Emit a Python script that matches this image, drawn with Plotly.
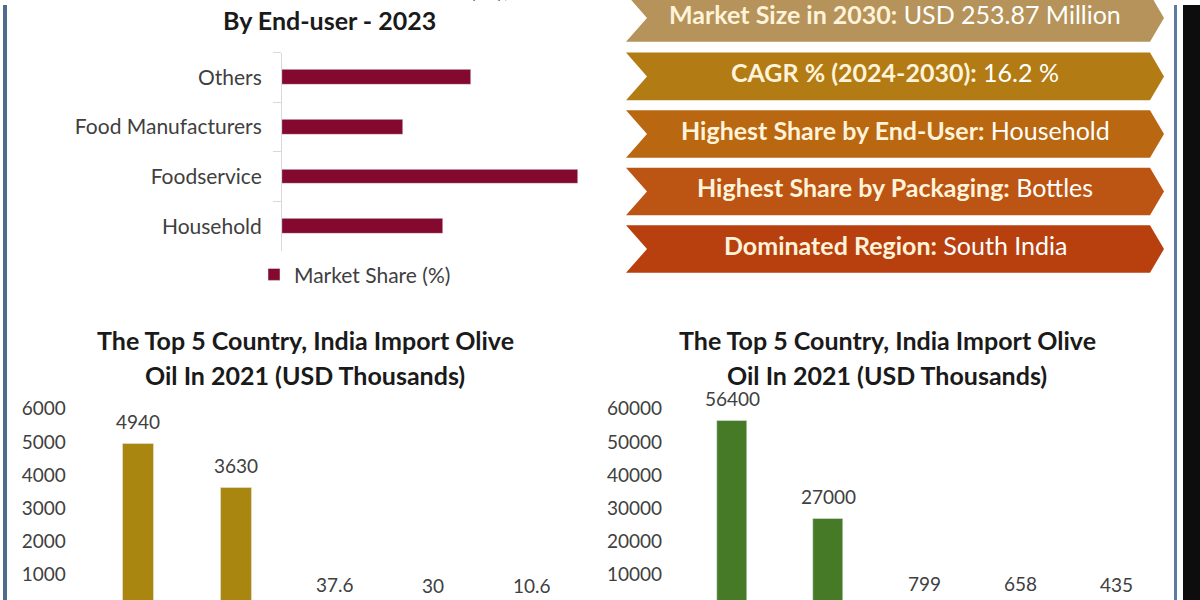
import plotly.graph_objects as go

# ---------------- data ----------------
enduser_categories = ["Household", "Foodservice", "Food Manufacturers", "Others"]
enduser_share = [21.0, 38.6, 15.8, 24.6]
enduser_series_name = "Market Share (%)"
enduser_title_lines = ["India Olive Oil Market Share (%),", "By End-user - 2023"]

import_title_lines = ["The Top 5 Country, India Import Olive", "Oil In 2021 (USD Thousands)"]

countries_left = ["Spain", "Italy", "Greece", "Turkey", "Tunisia"]
imports_left = [4940, 3630, 37.6, 30, 10.6]
ticks_left = [1000, 2000, 3000, 4000, 5000, 6000]

countries_right = ["Spain", "Italy", "Greece", "Turkey", "Tunisia"]
imports_right = [56400, 27000, 799, 658, 435]
ticks_right = [10000, 20000, 30000, 40000, 50000, 60000]

highlight_keys = [
    "Market Size in 2030:",
    "CAGR % (2024-2030):",
    "Highest Share by End-User:",
    "Highest Share by Packaging:",
    "Dominated Region:",
]
highlight_values = [
    "USD 253.87 Million",
    "16.2 %",
    "Household",
    "Bottles",
    "South India",
]
banner_colors = ["#B5935A", "#B27B14", "#B96710", "#BC5413", "#B8400F"]

# ---------------- helpers ----------------
W, H = 1200, 608          # bottom 8 px fall below the 600 px window (axis baselines)
FONT = "Lato"
TXT = "#404040"


def px(x):
    return x / W


def py(y):
    return 1 - y / H


fig = go.Figure()

fig.add_trace(go.Bar(
    y=enduser_categories, x=enduser_share, orientation="h",
    name=enduser_series_name, width=0.3,
    marker=dict(color="#84092F"),
    xaxis="x", yaxis="y", showlegend=True,
))
fig.add_trace(go.Bar(
    x=countries_left, y=imports_left, width=0.315,
    marker=dict(color="#A8860F"),
    xaxis="x2", yaxis="y2", showlegend=False,
))
fig.add_trace(go.Bar(
    x=countries_right, y=imports_right, width=0.31,
    marker=dict(color="#467A27"),
    xaxis="x3", yaxis="y3", showlegend=False,
))

annotations = []
# data labels
for c, v in zip(countries_left, imports_left):
    annotations.append(dict(x=c, y=v, xref="x2", yref="y2", text=f"{v:g}",
                            showarrow=False, yshift=22,
                            font=dict(family=FONT, size=19, color=TXT)))
for c, v in zip(countries_right, imports_right):
    annotations.append(dict(x=c, y=v, xref="x3", yref="y3", text=f"{v:g}",
                            showarrow=False, yshift=22,
                            font=dict(family=FONT, size=19, color=TXT)))

# titles (first line of the top-left title sits mostly above the visible area)
title_font = dict(family=FONT, size=25, color="#1A1A1A", weight="bold")
for line, yy in zip(enduser_title_lines, [-18, 15]):
    annotations.append(dict(x=px(329), y=py(yy), xref="paper", yref="paper",
                            text=line, showarrow=False, font=title_font,
                            xanchor="center", yanchor="middle"))
for cx in [305, 887]:
    for line, yy in zip(import_title_lines, [338, 373]):
        annotations.append(dict(x=px(cx), y=py(yy), xref="paper", yref="paper",
                                text=line, showarrow=False, font=title_font,
                                xanchor="center", yanchor="middle"))

# banners
shapes = []
left, notch, rcorner, tip = 626, 647, 1150, 1164
banner_tops = [-11, 48, 106, 164, 222]
bh = 48
for top, col, k, v in zip(banner_tops, banner_colors, highlight_keys, highlight_values):
    bot = top + bh
    mid = top + bh / 2
    path = (f"M {px(left)} {py(top)} L {px(rcorner)} {py(top)} L {px(tip)} {py(mid)} "
            f"L {px(rcorner)} {py(bot)} L {px(left)} {py(bot)} L {px(notch)} {py(mid)} Z")
    shapes.append(dict(type="path", path=path, xref="paper", yref="paper",
                       fillcolor=col, line=dict(width=0), layer="below"))
    annotations.append(dict(
        x=px(895), y=py(mid - 4), xref="paper", yref="paper", showarrow=False,
        xanchor="center", yanchor="middle",
        text=f"<b><span style='color:#FFF3DA'>{k}</span></b> {v}",
        font=dict(family=FONT, size=25, color="#FFFFFF"),
    ))

# borders
shapes.append(dict(type="line", xref="paper", yref="paper", x0=px(5), x1=px(5),
                   y0=0, y1=1, line=dict(color="#506C8C", width=4)))
shapes.append(dict(type="line", xref="paper", yref="paper", x0=px(1175.5), x1=px(1175.5),
                   y0=0, y1=1, line=dict(color="#5A7CA0", width=3)))
shapes.append(dict(type="rect", xref="paper", yref="paper", x0=px(1183), x1=1,
                   y0=0, y1=1, fillcolor="#0D0D0D", line=dict(width=0)))

tickfont = dict(family=FONT, size=19, color=TXT)

fig.update_layout(
    width=W, height=H,
    margin=dict(l=0, r=0, t=0, b=0),
    paper_bgcolor="white", plot_bgcolor="rgba(0,0,0,0)",
    font=dict(family=FONT, color=TXT),
    bargap=0,
    xaxis=dict(domain=[px(282), px(600)], range=[0, 41.5], visible=False, anchor="y"),
    yaxis=dict(domain=[py(248), py(48)], anchor="x", range=[-0.5, 3.5],
               showline=True, linecolor="#D9D9D9", linewidth=1,
               ticks="outside", tickson="boundaries", ticklen=8, tickcolor="#D9D9D9",
               tickfont=dict(family=FONT, size=21, color=TXT),
               showgrid=False, ticklabelstandoff=15),
    xaxis2=dict(domain=[px(88.75), px(581)], range=[-0.5, 4.5], visible=False, anchor="y2"),
    yaxis2=dict(domain=[0, py(400)], anchor="x2", range=[0, 6000 * 208 / 201],
                tickvals=ticks_left, tickformat="d", tickfont=tickfont, showgrid=False,
                showline=False, zeroline=False, ticklabelstandoff=22),
    xaxis3=dict(domain=[px(684), px(1165)], range=[-0.5, 4.5], visible=False, anchor="y3"),
    yaxis3=dict(domain=[0, py(400)], anchor="x3", range=[0, 60000 * 208 / 201],
                tickvals=ticks_right, tickformat="d", tickfont=tickfont, showgrid=False,
                showline=False, zeroline=False, ticklabelstandoff=21),
    legend=dict(orientation="h", x=px(254), y=py(272), xanchor="left", yanchor="middle",
                font=dict(family=FONT, size=21, color=TXT), itemwidth=30,
                bgcolor="rgba(0,0,0,0)"),
    shapes=shapes,
    annotations=annotations,
)

fig.write_html("out.html", config={"displayModeBar": False},
               post_script="document.body.style.margin='0px';")
